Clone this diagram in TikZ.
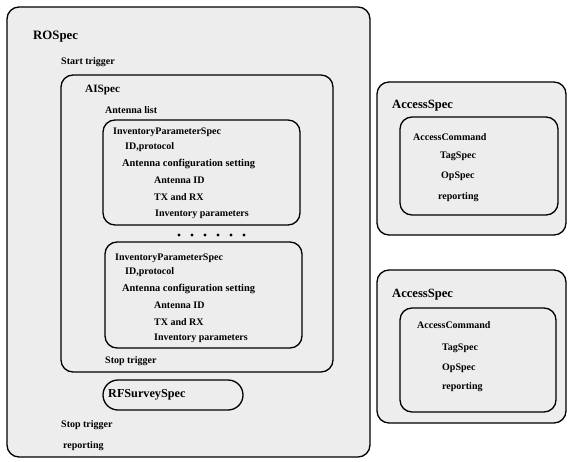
\documentclass[tikz,border=0pt]{standalone}
\usepackage{fontspec}
\setmainfont{Liberation Serif}
\usetikzlibrary{positioning}

\begin{document}
\begin{tikzpicture}[
  x=1pt, y=-1pt,
  font=\fontsize{10}{11}\selectfont\bfseries,
  frame/.style={
    rectangle, rounded corners=12pt,
    draw=black, fill=black!7, line width=1.3pt,
    inner sep=0pt, outer sep=0pt,
  },
  lbl/.style={anchor=west, inner sep=0pt},
  ttl/.style={lbl, font=\fontsize{12.6}{13}\selectfont\bfseries},
  sml/.style={lbl, font=\fontsize{#1}{10}\selectfont\bfseries},
]
\useasboundingbox (0,0) rectangle (572,462);

% boxes
\node[frame, minimum width=363pt, minimum height=450pt] (rospec) at (188.5,232) {};
\node[frame, minimum width=272pt, minimum height=297pt] (aispec) at (197,223.5) {};
\node[frame, minimum width=197pt, minimum height=105pt] (invA) at (201.5,172.5) {};
\node[frame, minimum width=197pt, minimum height=106pt] (invB) at (203.5,295) {};
\node[frame, rounded corners=15pt, minimum width=140pt, minimum height=30pt] (rfsurvey) at (173,395) {};
\node[frame, minimum width=189pt, minimum height=153pt] (accA) at (471.5,158.5) {};
\node[frame, minimum width=158pt, minimum height=98pt] (cmdA) at (479,166) {};
\node[frame, minimum width=189pt, minimum height=153pt] (accB) at (471.5,346.5) {};
\node[frame, minimum width=156pt, minimum height=104pt] (cmdB) at (478,360) {};

% ROSpec
\node[sml=12.8] (ro) at (33,37) {ROSpec};
\node[lbl] (start) at (61,62) {Start trigger};
\node[sml=11.2] (ai) at (85,90) {AISpec};
\node[lbl] (antlist) at (105,110) {Antenna list};

\node[lbl] (ipsA) at (113,132) {InventoryParameterSpec};
\node[lbl] (idA) at (125,147) {ID,protocol};
\node[sml=10.4] (cfgA) at (122,164) {Antenna configuration setting};
\node[lbl] (antidA) at (154,180) {Antenna ID};
\node[lbl] (txrxA) at (154,197) {TX and RX};
\node[lbl] (parA) at (155,214) {Inventory parameters};

\foreach \i in {0,...,5}
  \fill (179+13*\i,235) circle (1.6pt);

\node[lbl] (ipsB) at (115,258) {InventoryParameterSpec};
\node[lbl] (idB) at (125,272) {ID,protocol};
\node[sml=10.4] (cfgB) at (122,289) {Antenna configuration setting};
\node[lbl] (antidB) at (154,305) {Antenna ID};
\node[lbl] (txrxB) at (154,322) {TX and RX};
\node[lbl] (parB) at (154,338) {Inventory parameters};

\node[lbl] (stopai) at (105,361) {Stop trigger};
\node[sml=12.2] (rf) at (108,395) {RFSurveySpec};
\node[lbl] (stopro) at (61,425) {Stop trigger};
\node[lbl] (repro) at (63,446) {reporting};

% AccessSpec (top)
\node[ttl] (asA) at (392,106) {AccessSpec};
\node[lbl] (acA) at (413,137) {AccessCommand};
\node[lbl] (tagA) at (440,156) {TagSpec};
\node[lbl] (opA) at (441,176) {OpSpec};
\node[lbl] (repA) at (438,197) {reporting};

% AccessSpec (bottom)
\node[ttl] (asB) at (392,295) {AccessSpec};
\node[lbl] (acB) at (417,325) {AccessCommand};
\node[lbl] (tagB) at (442,348) {TagSpec};
\node[lbl] (opB) at (442,368) {OpSpec};
\node[lbl] (repB) at (442,387) {reporting};

\end{tikzpicture}
\end{document}
